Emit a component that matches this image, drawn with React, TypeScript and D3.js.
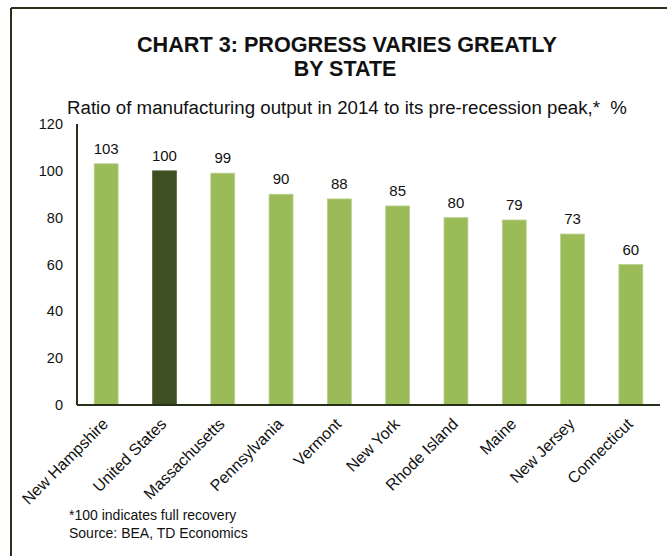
import React from "react";
import * as d3 from "d3";

const states = ["New Hampshire", "United States", "Massachusetts", "Pennsylvania", "Vermont", "New York", "Rhode Island", "Maine", "New Jersey", "Connecticut"];
const values = [103, 100, 99, 90, 88, 85, 80, 79, 73, 60];
const yTicks = [0, 20, 40, 60, 80, 100, 120];
const highlight = "United States";

export default function App() {
  const W = 667, H = 556;
  const x0 = 77, x1 = 660, yTop = 124, yBot = 405;
  const x = d3.scaleBand<string>().domain(states).range([x0, x1]).paddingInner(0.59).paddingOuter(0.295);
  const y = d3.scaleLinear().domain([0, 120]).range([yBot, yTop]);
  const font = "'Liberation Sans', Arial, sans-serif";
  return (
    <svg width={W} height={H} style={{ position: "absolute", left: 0, top: 0, display: "block" }} fontFamily={font}>
      <rect x={0} y={0} width={W} height={H} fill="#fff" />
      <line x1={11} y1={8} x2={W} y2={8} stroke="#26301a" strokeWidth={2} />
      <line x1={11} y1={8} x2={11} y2={H} stroke="#26301a" strokeWidth={2} />
      <text x={137} y={52} fontSize={21.5} fontWeight="bold" fill="#111" textLength={420} lengthAdjust="spacingAndGlyphs">CHART 3: PROGRESS VARIES GREATLY</text>
      <text x={345} y={76} textAnchor="middle" fontSize={21.5} fontWeight="bold" fill="#111">BY STATE</text>
      <text x={67} y={114} fontSize={18} fill="#111" textLength={560} lengthAdjust="spacingAndGlyphs">{"Ratio of manufacturing output in 2014 to its pre-recession peak,*\u00a0\u00a0%"}</text>
      {yTicks.map((t) => (
        <text key={t} x={63} y={y(t) + 5} textAnchor="end" fontSize={14.5} fill="#111">{t}</text>
      ))}
      {states.map((s, i) => (
        <g key={s}>
          <rect x={x(s)} y={y(values[i])} width={x.bandwidth()} height={yBot - y(values[i])}
            fill={s === highlight ? "#3e4f22" : "#9bbb59"} stroke={s === highlight ? "#56663a" : "#b9cf8e"} strokeWidth={0.8} />
          <text x={(x(s) as number) + x.bandwidth() / 2} y={y(values[i]) - 10} textAnchor="middle" fontSize={15} fill="#111">{values[i]}</text>
          <text transform={`translate(${(x(s) as number) + x.bandwidth() / 2 + 3},${yBot + 20}) rotate(-45)`} textAnchor="end" fontSize={16} fill="#111">{s}</text>
        </g>
      ))}
      <line x1={x0} y1={yTop} x2={x0} y2={yBot} stroke="#26301a" strokeWidth={2} />
      <line x1={x0} y1={yBot} x2={x1} y2={yBot} stroke="#26301a" strokeWidth={2} />
      <text x={69} y={520} fontSize={14} fill="#111">*100 indicates full recovery</text>
      <text x={69} y={538} fontSize={14} fill="#111">Source: BEA, TD Economics</text>
    </svg>
  );
}
